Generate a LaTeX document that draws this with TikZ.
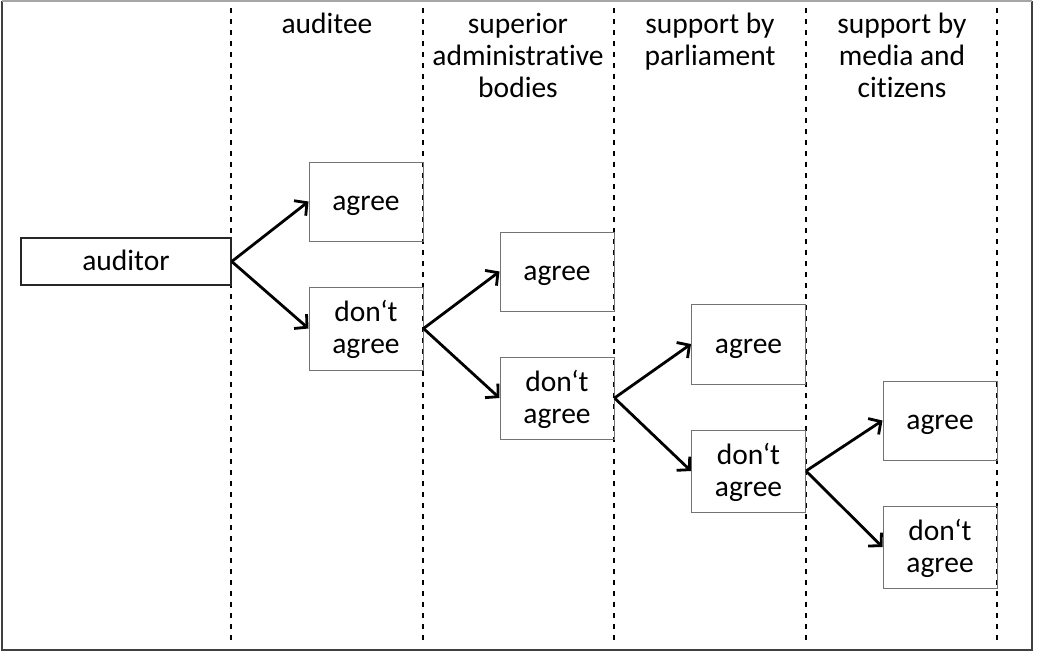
\documentclass[tikz,border=0pt]{standalone}
\usepackage{fontspec}
\setmainfont{Carlito}[Ligatures={NoCommon}]
\usetikzlibrary{arrows.meta}
\newcommand\st{\vrule width0pt height24pt depth6pt\relax}
\tikzset{
  lbl/.style={font=\fontsize{29.5}{32}\selectfont, align=center, inner sep=0pt},
  box/.style={draw=black!55, line width=1pt, inner sep=0pt, minimum width=114pt,
              font=\fontsize{29.5}{32}\selectfont, align=center},
  sep/.style={line width=1.3pt, dash pattern=on 5pt off 6pt},
  arr/.style={line width=2.8pt, -{Straight Barb[length=9pt,width=19pt,line width=2.8pt]}},
}
\begin{document}
\begin{tikzpicture}[x=1pt,y=-1pt]
\useasboundingbox (0,0) rectangle (1037,653);
% frame
\coordinate (f1) at (2,1); \coordinate (f2) at (1032,1);
\coordinate (f3) at (1032,650); \coordinate (f4) at (2,650);
\draw[line width=1.5pt, black!75] (f1) -- (f4) -- (f3) -- (f2);
\draw[line width=1.5pt, black!35] (f1) -- (f2);
% separators
\foreach \x/\n in {231/s1,423/s2,614/s3,806/s4,997/s5}{
  \coordinate (\n t) at (\x,8); \coordinate (\n b) at (\x,641);
  \draw[sep] (\n t) -- (\n b);
}
% headers
\node[lbl, anchor=north] (h1) at (327,9) {\st auditee};
\node[lbl, anchor=north] (h2) at (518,9) {\st superior\\\st administrative\\\st bodies};
\node[lbl, anchor=north] (h3) at (710,9) {\st support by\\\st parliament};
\node[lbl, anchor=north] (h4) at (902,9) {\st support by\\\st media and\\\st citizens};
% boxes
\node[box, draw=black!85, line width=1.5pt, minimum width=210pt, minimum height=47pt] (aud) at (126,261.5) {\st auditor};
\node[box, minimum height=79pt] (a1) at (366,201.5) {\st agree};
\node[box, minimum height=83pt] (d1) at (366,328.5) {\st don‘t\\\st agree};
\node[box, minimum height=79pt] (a2) at (557,271.5) {\st agree};
\node[box, minimum height=82pt] (d2) at (557,398) {\st don‘t\\\st agree};
\node[box, minimum height=80pt] (a3) at (748.5,344) {\st agree};
\node[box, minimum height=82pt] (d3) at (748.5,471) {\st don‘t\\\st agree};
\node[box, minimum height=79pt] (a4) at (940,420.5) {\st agree};
\node[box, minimum height=82pt] (d4) at (940,547) {\st don‘t\\\st agree};
% arrows
\draw[arr] (aud.east) -- (a1.west);
\draw[arr] (aud.east) -- (d1.west);
\draw[arr] (d1.east) -- (a2.west);
\draw[arr] (d1.east) -- (d2.west);
\draw[arr] (d2.east) -- (a3.west);
\draw[arr] (d2.east) -- (d3.west);
\draw[arr] (d3.east) -- (a4.west);
\draw[arr] (d3.east) -- (d4.west);
\end{tikzpicture}
\end{document}
